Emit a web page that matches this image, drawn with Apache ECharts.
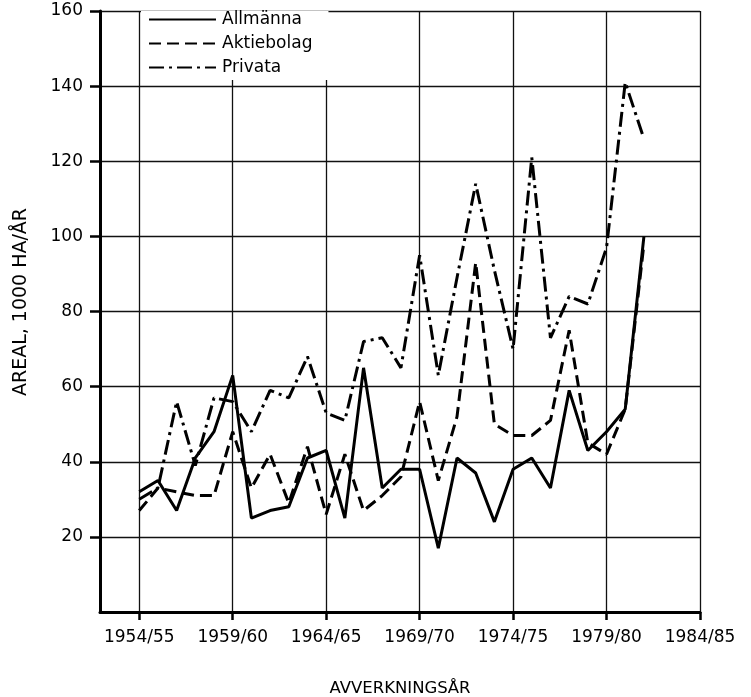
<!DOCTYPE html>
<html>
<head>
<meta charset="utf-8">
<script src="https://cdn.jsdelivr.net/npm/echarts@6/dist/echarts.min.js"></script>
<style>
  html, body { margin: 0; padding: 0; background: #fff; overflow: hidden; }
  #chart { width: 751px; height: 697px; }
</style>
</head>
<body>
<div id="chart"></div>
<script>
// ---- data ----
const seasons = ['1954/55','1955/56','1956/57','1957/58','1958/59','1959/60','1960/61','1961/62',
  '1962/63','1963/64','1964/65','1965/66','1966/67','1967/68','1968/69','1969/70','1970/71',
  '1971/72','1972/73','1973/74','1974/75','1975/76','1976/77','1977/78','1978/79','1979/80',
  '1980/81','1981/82'];
const allmanna   = [32, 35, 27, 41, 48, 63, 25, 27, 28, 41, 43, 25, 65, 33, 38, 38, 17, 41, 37, 24, 38, 41, 33, 59, 43, 48, 54, 100];
const aktiebolag = [27, 33, 32, 31, 31, 48, 33, 42, 29, 44, 26, 42, 27, 31, 36, 56, 35, 52, 93, 50, 47, 47, 51, 75, 45, 42, 54, 98];
const privata    = [30, 33, 56, 39, 57, 56, 48, 59, 57, 68, 53, 51, 72, 73, 65, 95, 63, 89, 114, 91, 70, 121, 73, 84, 82, 97, 141, 126];
const xTickLabels = ['1954/55','1959/60','1964/65','1969/70','1974/75','1979/80','1984/85'];
const yTicks = [20, 40, 60, 80, 100, 120, 140, 160];
const seriesNames = ['Allmänna', 'Aktiebolag', 'Privata'];

const startYear = s => parseInt(s.slice(0, 4), 10);
const xTicks = xTickLabels.map(startYear);
const labelOf = {};
xTickLabels.forEach(l => { labelOf[startYear(l)] = l; });
const toPairs = vals => seasons.map((s, i) => [startYear(s), vals[i]]);

const FONT = 'DejaVu Sans';
const chart = echarts.init(document.getElementById('chart'), null, { renderer: 'canvas' });

const lineTypes = ['solid', [12, 6], [15, 5, 3, 5]];
const data = [allmanna, aktiebolag, privata];

chart.setOption({
  backgroundColor: '#fff',
  animation: false,
  textStyle: { fontFamily: FONT, color: '#000' },
  grid: { left: 100, right: 51, top: 11, bottom: 85, containLabel: false, outerBoundsMode: 'none' },
  legend: {
    orient: 'vertical',
    left: 141, top: 11,
    padding: [0, 16, 4, 7],
    itemWidth: 67, itemHeight: 14, itemGap: 7,
    backgroundColor: '#fff',
    itemStyle: { opacity: 0 },
    textStyle: { fontFamily: FONT, fontSize: 17, color: '#000', padding: [0, 0, 0, 1] },
    data: seriesNames
  },
  xAxis: {
    type: 'value',
    min: 1951.9, max: 1984,
    name: 'AVVERKNINGSÅR',
    nameLocation: 'middle', nameGap: 68,
    nameTextStyle: { fontFamily: FONT, fontSize: 16.5, color: '#000' },
    axisLine: { show: true, lineStyle: { color: '#000', width: 3 } },
    axisTick: { show: true, customValues: xTicks, length: 8, lineStyle: { color: '#000', width: 2.5 } },
    axisLabel: { customValues: xTicks, margin: 17, fontFamily: FONT, fontSize: 17, color: '#000',
                 formatter: v => labelOf[v] || '' },
    splitLine: { show: true, lineStyle: { color: '#111', width: 1.3 } }
  },
  yAxis: {
    type: 'value',
    min: 0, max: 160, interval: 20,
    name: 'AREAL, 1000 HA/ÅR',
    nameLocation: 'middle', nameGap: 69,
    nameTextStyle: { fontFamily: FONT, fontSize: 19, color: '#000', padding: [0, 0, 0, 19] },
    axisLine: { show: true, lineStyle: { color: '#000', width: 3 } },
    axisTick: { show: true, customValues: yTicks, length: 10, lineStyle: { color: '#000', width: 2.5 } },
    axisLabel: { customValues: yTicks, margin: 17, fontFamily: FONT, fontSize: 17, color: '#000' },
    splitLine: { show: true, lineStyle: { color: '#111', width: 1.3 } }
  },
  series: seriesNames.map((name, i) => ({
    name,
    type: 'line',
    data: toPairs(data[i]),
    symbol: 'none',
    lineStyle: { color: '#000', width: 3, type: lineTypes[i] },
    itemStyle: { color: '#000' },
    z: 3
  }))
});
</script>
</body>
</html>
